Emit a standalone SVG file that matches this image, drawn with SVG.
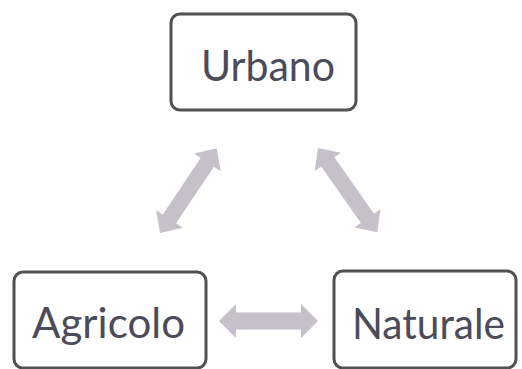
<svg xmlns="http://www.w3.org/2000/svg" width="522" height="369" viewBox="0 0 522 369">
<style>
.box{fill:#fff;stroke:#515151;stroke-width:3}
.lbl{font-family:Lato,"Open Sans",sans-serif;font-size:43px;fill:#4b4b5a;text-anchor:middle}
.arr{fill:#c6c0ca}
</style>
<rect width="522" height="369" fill="#fff"/>
<g id="connectors">
<polygon class="arr" transform="translate(160,233) rotate(-56.2)" points="0,0 17,-16 17,-8 85,-8 85,-16 102,0 85,16 85,8 17,8 17,16"/>
<polygon class="arr" transform="translate(318,148) rotate(54.9)" points="0,0 17,-16 17,-8 86,-8 86,-16 103,0 86,16 86,8 17,8 17,16"/>
<polygon class="arr" transform="translate(219,321)" points="0,0 17,-17 17,-8.5 82,-8.5 82,-17 99,0 82,17 82,8.5 17,8.5 17,17"/>
</g>
<g id="urbano">
<rect class="box" x="171" y="14" width="185" height="96" rx="9"/>
<text class="lbl" x="268" y="81" textLength="134" lengthAdjust="spacingAndGlyphs">Urbano</text>
</g>
<g id="agricolo">
<rect class="box" x="14" y="272" width="192" height="96" rx="9"/>
<text class="lbl" x="108.5" y="338" textLength="153" lengthAdjust="spacingAndGlyphs">Agricolo</text>
</g>
<g id="naturale">
<rect class="box" x="334" y="271" width="182" height="97" rx="9"/>
<text class="lbl" x="428.5" y="339" textLength="153" lengthAdjust="spacingAndGlyphs">Naturale</text>
</g>
</svg>
